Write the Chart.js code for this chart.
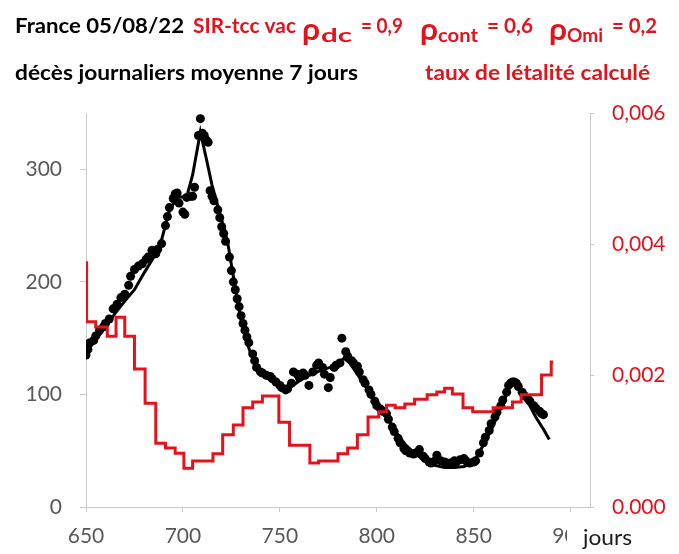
<!DOCTYPE html>
<html>
<head>
<meta charset="utf-8">
<script src="https://cdn.jsdelivr.net/npm/chart.js@4.4.1/dist/chart.umd.min.js"></script>
<style>
    html, body { margin: 0; padding: 0; background: #fff; }
    #wrap { width: 679px; height: 554px; }
</style>
</head>
<body>
<div id="wrap"><canvas id="myChart" width="679" height="554"></canvas></div>
<script>
// décès journaliers (moyenne 7 jours)
const dotDays = [650, 651, 652, 654, 655, 657, 659, 660, 662, 664, 666, 668, 670, 672, 673, 675, 677, 679, 681, 682,
    684, 686, 687, 689, 691, 692, 693, 695, 696, 697, 698, 700, 701, 702, 704, 705, 706, 708, 709, 710,
    711, 712, 713, 714, 715, 716, 718, 719, 720, 721, 722, 724, 725, 726, 727, 728, 729, 730, 731, 732,
    733, 734, 736, 737, 738, 740, 741, 743, 745, 746, 748, 750, 751, 753, 754, 756, 757, 759, 760, 762,
    763, 765, 767, 769, 770, 772, 773, 775, 776, 778, 779, 781, 782, 784, 785, 787, 788, 790, 791, 793,
    794, 796, 797, 799, 800, 802, 803, 805, 806, 808, 809, 811, 812, 814, 815, 817, 819, 820, 822, 824,
    825, 827, 828, 830, 831, 833, 835, 836, 838, 840, 841, 843, 845, 846, 848, 850, 851, 853, 855, 856,
    858, 859, 861, 862, 864, 865, 867, 868, 869, 870, 871, 872, 873, 875, 876, 878, 879, 881, 882, 884,
    885, 886];
const dotDeaths = [135, 140, 146, 148, 152, 157, 160, 163, 167, 176, 180, 186, 189, 197, 205, 211, 214, 216, 220, 222,
    228, 225, 229, 234, 250, 258, 266, 274, 278, 279, 270, 262, 260, 275, 276, 276, 284, 330, 345, 332,
    330, 326, 324, 281, 276, 272, 264, 257, 249, 243, 236, 222, 210, 200, 193, 185, 178, 170, 163, 157,
    151, 146, 136, 130, 124, 120, 119, 117, 116, 114, 111, 108, 106, 104, 105, 110, 120, 118, 115, 119,
    117, 108, 120, 126, 128, 124, 118, 106, 115, 124, 126, 128, 150, 138, 134, 130, 128, 125, 120, 113,
    110, 104, 100, 94, 90, 87, 85, 83, 78, 71, 67, 61, 57, 52, 50, 48, 47, 48, 51, 45,
    43, 40, 39, 41, 46, 41, 40, 39, 39, 41, 40, 42, 43, 41, 39, 40, 41, 48, 57, 62,
    68, 74, 80, 84, 90, 95, 102, 108, 110, 111, 111, 110, 107, 102, 99, 96, 94, 90, 88, 85,
    83, 82];

// modèle SIR (ligne noire)
const modelDays = [650, 655, 660, 665, 670, 675, 680, 685, 688, 693, 697, 702, 705, 709, 712, 715, 720, 723, 726, 729,
    732, 735, 738, 742, 746, 750, 753, 756, 760, 764, 768, 772, 776, 780, 783, 786, 790, 795, 800, 805,
    810, 815, 820, 825, 830, 835, 840, 845, 850, 855, 860, 865, 869, 871, 874, 878, 882, 886, 889];
const modelDeaths = [138, 148, 160, 172, 183, 193, 208, 222, 231, 263, 275, 276, 295, 333, 310, 286, 255, 236, 205, 175,
    152, 136, 124, 117, 112, 106, 103, 107, 112, 116, 119, 122, 124, 128, 132, 128, 118, 105, 92, 80,
    66, 55, 47, 41, 37, 35, 35, 36, 40, 55, 72, 92, 108, 111, 106, 93, 80, 69, 60];

// taux de létalité calculé (paliers)
const rateDays = [650, 650.3, 655, 661, 665.5, 670, 675, 680.5, 686, 691, 696, 700.5, 705, 715.5, 720.5, 726, 731, 736, 741, 749.5,
    755, 765.5, 770, 780, 785, 790, 795.5, 801, 805, 809.5, 814.5, 819.5, 826, 831, 835, 839, 844.5, 849.5, 860, 870,
    874.5, 885, 890, 891];
const rateVals = [0.00372, 0.00282, 0.00274, 0.0026, 0.00289, 0.0026, 0.0021, 0.00158, 0.00097, 0.0009, 0.00082, 0.00059, 0.0007, 0.00081, 0.0011, 0.00125, 0.00151, 0.0016, 0.00169, 0.00129,
    0.00094, 0.00067, 0.0007, 0.00081, 0.0009, 0.0011, 0.00137, 0.00145, 0.00155, 0.00151, 0.00157, 0.00164, 0.00171, 0.00175, 0.00181, 0.00172, 0.00151, 0.00145, 0.00151, 0.0016,
    0.00171, 0.00201, 0.00221, 0.00221];

const xTicks = [650, 700, 750, 800, 850, 900];
const yTicks = [0, 100, 200, 300];
const rateTicks = ['0.000', '0,002', '0,004', '0,006'];

const RED = '#e5121b';
const GREY = '#595959';
const AXIS = '#c8c8c8';
const FONT = 'Lato';

function toPoints(xs, ys) {
    return xs.map((x, i) => ({ x: x, y: ys[i] }));
}

// texte étiré horizontalement pour tenir dans la largeur voulue
function fitText(ctx, s, x, base, size, color, w, weight) {
    ctx.save();
    ctx.font = (weight || 'bold') + ' ' + size + 'px ' + FONT;
    ctx.fillStyle = color;
    ctx.textBaseline = 'alphabetic';
    ctx.textAlign = 'left';
    const m = ctx.measureText(s).width;
    ctx.translate(x, base);
    if (w) ctx.scale(w / m, 1);
    ctx.fillText(s, 0, 0);
    ctx.restore();
}

const titles = {
    id: 'titles',
    afterDraw(chart) {
        const ctx = chart.ctx;
        // ligne 1
        fitText(ctx, 'France 05/08/22', 15, 33, 21, '#000', 169);
        fitText(ctx, 'SIR-tcc vac', 193, 33, 21, RED, 103);
        fitText(ctx, 'ρ', 302, 40, 30, RED, 18);
        fitText(ctx, 'dc', 321, 42, 19, RED, 31);
        fitText(ctx, '= 0,9', 361, 33, 21, RED, 42);
        fitText(ctx, 'ρ', 420, 40, 30, RED, 18);
        fitText(ctx, 'cont', 438, 42, 19, RED, 40);
        fitText(ctx, '= 0,6', 487, 33, 21, RED, 46);
        fitText(ctx, 'ρ', 549, 40, 30, RED, 18);
        fitText(ctx, 'Omi', 567, 42, 19, RED, 36);
        fitText(ctx, '= 0,2', 612, 33, 21, RED, 45);
        // ligne 2
        fitText(ctx, 'décès journaliers moyenne 7 jours', 15, 80, 21, '#000', 343);
        fitText(ctx, 'taux de létalité calculé', 425, 80, 21, RED, 225);
        // titre de l'axe x, posé par-dessus le "900"
        ctx.save();
        ctx.fillStyle = '#fff';
        ctx.fillRect(567, 520, 75, 34);
        ctx.restore();
        fitText(ctx, 'jours', 583, 545, 21, '#1a1a1a', 49, 'normal');
    }
};

const ctx = document.getElementById('myChart').getContext('2d');

new Chart(ctx, {
    type: 'scatter',
    data: {
        datasets: [
            {
                label: 'taux de létalité',
                data: toPoints(rateDays, rateVals),
                yAxisID: 'y2',
                showLine: true,
                stepped: true,
                borderColor: RED,
                borderWidth: 3,
                pointRadius: 0,
                order: 0
            },
            {
                label: 'décès',
                data: toPoints(dotDays, dotDeaths),
                yAxisID: 'y',
                showLine: false,
                pointRadius: 4.5,
                pointBorderWidth: 0,
                backgroundColor: '#000',
                order: 1
            },
            {
                label: 'modèle',
                data: toPoints(modelDays, modelDeaths),
                yAxisID: 'y',
                showLine: true,
                borderColor: '#000',
                borderWidth: 3,
                pointRadius: 0,
                order: 2
            }
        ]
    },
    options: {
        responsive: false,
        animation: false,
        layout: { padding: { top: 113, left: 0, right: 0, bottom: 0 } },
        plugins: {
            legend: { display: false },
            tooltip: { enabled: false }
        },
        scales: {
            x: {
                type: 'linear',
                position: 'bottom',
                min: 650,
                max: 910,
                afterFit: s => { s.height = 47; },
                afterBuildTicks: s => { s.ticks = xTicks.map(v => ({ value: v })); },
                ticks: { color: GREY, font: { family: FONT, size: 21 }, padding: 12, maxRotation: 0 },
                grid: { drawOnChartArea: false, drawTicks: true, tickLength: 5, color: AXIS },
                border: { color: AXIS }
            },
            y: {
                position: 'left',
                min: 0,
                max: 350,
                afterFit: s => { s.width = 86; },
                afterBuildTicks: s => { s.ticks = yTicks.map(v => ({ value: v })); },
                ticks: { color: GREY, font: { family: FONT, size: 21 }, padding: 18 },
                grid: { drawOnChartArea: false, drawTicks: true, tickLength: 6, color: AXIS },
                border: { color: AXIS }
            },
            y2: {
                position: 'right',
                min: 0,
                max: 0.006,
                afterFit: s => { s.width = 89; },
                afterBuildTicks: s => { s.ticks = [0, 0.002, 0.004, 0.006].map(v => ({ value: v })); },
                ticks: {
                    color: RED,
                    font: { family: FONT, size: 21 },
                    padding: 18,
                    callback: (v, i) => rateTicks[i]
                },
                grid: { drawOnChartArea: false, drawTicks: true, tickLength: 4, color: AXIS },
                border: { color: AXIS }
            }
        }
    },
    plugins: [titles]
});
</script>
</body>
</html>
